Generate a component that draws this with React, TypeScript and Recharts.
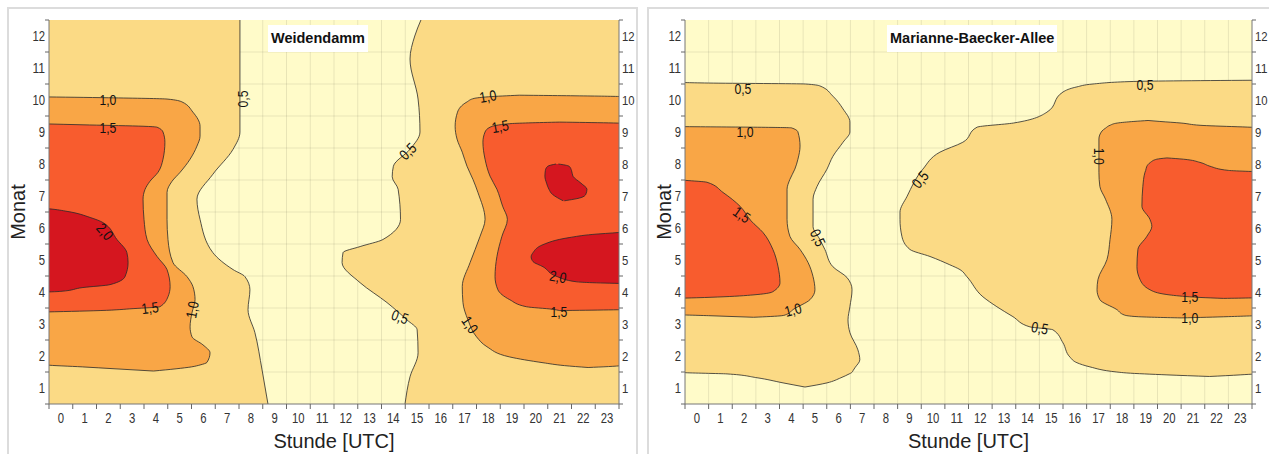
import React from "react";
import {
  ComposedChart,
  Area,
  Scatter,
  XAxis,
  YAxis,
  CartesianGrid,
} from "recharts";

// [month, lower hour, upper hour] rows of each contour band.
// L / R stand for "past the left / right edge of the plot".
type Row = [number, number, number];
const L = -1;
const R = 24;

const HOURS = [0, 1, 2, 3, 4, 5, 6, 7, 8, 9, 10, 11, 12, 13, 14, 15, 16, 17, 18, 19, 20, 21, 22, 23];
const MONTHS = [1, 2, 3, 4, 5, 6, 7, 8, 9, 10, 11, 12];

// ---- Weidendamm ----
const wdLeft05: Row[] = [
  [0.5, L, 8.72], [1.57, L, 8.47], [2.73, L, 8.17], [3.45, L, 7.88], [4.07, L, 7.96],
  [4.48, L, 7.75], [4.7, L, 7.25], [5.23, L, 6.4], [6.27, L, 5.86], [6.9, L, 5.73],
  [7.68, L, 6.4], [8.46, L, 7.25], [9.0, L, 7.54], [12.5, L, 7.54],
];
const wdRight05: Row[] = [
  [0.5, 14.49, R], [1.35, 14.7, R], [2.1, 15.04, R], [2.82, 15.0, R], [3.13, 14.57, R],
  [3.67, 13.73, R], [4.29, 12.6, R], [4.92, 11.84, R], [5.23, 11.88, R], [5.42, 12.6, R],
  [5.64, 13.56, R], [6.27, 14.3, R], [7.21, 14.2, R], [7.6, 13.95, R], [7.93, 14.0, R],
  [8.46, 14.7, R], [9.0, 15.12, R], [10.03, 15.04, R], [11.28, 14.7, R], [12.0, 14.9, R],
  [12.5, 15.16, R],
];
const wdLeft10: Row[] = [
  [1.53, 3.9, 3.9], [1.6, 2.28, 4.85], [1.66, 0.9, 5.5], [1.72, -0.6, 5.86], [1.8, L, 6.15],
  [2.1, L, 6.28], [2.35, L, 5.98], [2.6, L, 5.52], [2.91, L, 5.44], [3.35, L, 5.52],
  [3.76, L, 5.65], [4.17, L, 5.56], [4.48, L, 5.31], [4.92, L, 4.72], [5.64, L, 4.51],
  [6.27, L, 4.47], [7.11, L, 4.47], [7.46, L, 4.68], [7.74, L, 5.02], [8.15, L, 5.44],
  [8.56, L, 5.73], [8.87, L, 5.86], [9.18, L, 5.86], [9.62, L, 5.56], [9.94, L, 5.1],
  [10.03, L, 4.47], [10.07, L, 2.0], [10.1, L, L],
];
const wdRight10: Row[] = [
  [1.64, 22.2, 22.2], [1.7, 21.2, 23.6], [1.79, 20.3, R], [1.97, 18.9, R], [2.29, 17.94, R],
  [2.6, 17.5, R], [3.13, 17.14, R], [3.67, 16.93, R], [4.17, 16.9, R], [4.92, 17.23, R],
  [5.74, 17.65, R], [6.27, 17.86, R], [7.11, 17.56, R], [7.52, 17.35, R], [7.93, 17.1, R],
  [8.37, 16.9, R], [8.78, 16.68, R], [9.18, 16.6, R], [9.62, 16.7, R], [9.94, 17.1, R],
  [10.05, 17.4, R], [10.1, 18.0, 23.8], [10.15, 19.3, 19.3],
];
const wdLeft15: Row[] = [
  [3.37, L, L], [3.42, L, 1.65], [3.48, L, 3.04], [3.54, L, 4.17], [3.85, L, 4.51],
  [4.17, L, 4.6], [4.7, L, 4.47], [5.11, L, 4.05], [5.64, L, 3.63], [6.27, L, 3.5],
  [6.9, L, 3.46], [7.2, L, 3.54], [7.46, L, 3.75], [7.74, L, 4.09], [8.15, L, 4.3],
  [8.68, L, 4.38], [9.0, L, 4.3], [9.15, L, 4.05], [9.18, L, 3.46], [9.22, L, 1.2], [9.26, L, L],
];
const wdRight15: Row[] = [
  [3.42, 21.0, 21.0], [3.46, 20.7, R], [3.54, 19.6, R], [3.76, 18.9, R], [4.07, 18.4, R],
  [4.48, 18.28, R], [5.11, 18.36, R], [5.74, 18.57, R], [6.27, 18.8, R], [6.68, 18.6, R],
  [7.21, 18.36, R], [7.62, 18.07, R], [8.15, 17.86, R], [8.68, 17.77, R], [9.0, 17.86, R],
  [9.15, 18.07, R], [9.26, 18.9, R], [9.31, 21.0, 21.0],
];
const wdLeft20: Row[] = [
  [3.99, L, L], [4.02, L, 0.0], [4.14, L, 0.93], [4.23, L, 2.07], [4.48, L, 2.7],
  [4.92, L, 2.83], [5.23, L, 2.78], [5.64, L, 2.36], [6.17, L, 1.77], [6.33, L, 1.23],
  [6.52, L, 0.26], [6.6, L, -0.5], [6.63, L, L],
];
const wdBlob20: Row[] = [
  [6.85, 21.15, 21.2], [6.95, 20.9, 21.9], [7.05, 20.7, 22.1], [7.21, 20.55, 22.15],
  [7.4, 20.45, 21.9], [7.62, 20.38, 21.56], [7.8, 20.4, 21.5], [7.93, 20.5, 21.4],
  [8.0, 20.85, 20.95],
];
const wdRight20: Row[] = [
  [4.26, R, R], [4.29, 22.4, R], [4.32, 21.7, R], [4.48, 20.9, R], [4.79, 20.3, R],
  [4.95, 19.88, R], [5.1, 19.8, R], [5.23, 19.88, R], [5.48, 20.3, R], [5.7, 21.4, R],
  [5.8, 22.4, R], [5.86, 23.5, R], [5.89, R, R],
];

// ---- Marianne-Baecker-Allee ----
const mbLeft05: Row[] = [
  [1.03, 4.58, 4.58], [1.16, 3.65, 5.51], [1.32, 2.55, 6.1], [1.44, 1.28, 6.45],
  [1.48, -0.5, 6.55], [1.55, L, 6.62], [1.63, L, 6.69], [1.88, L, 6.9], [2.19, L, 6.82],
  [2.73, L, 6.48], [3.13, L, 6.4], [3.54, L, 6.48], [4.07, L, 6.57], [4.45, L, 6.36],
  [4.79, L, 5.76], [5.33, L, 5.42], [5.64, L, 5.21], [6.05, L, 4.92], [6.9, L, 4.92],
  [7.3, L, 5.09], [7.84, L, 5.51], [8.24, L, 5.76], [8.68, L, 6.19], [9.0, L, 6.48],
  [9.31, L, 6.48], [9.72, L, 6.19], [10.12, L, 5.76], [10.44, L, 5.21], [10.5, L, 4.6],
  [10.53, L, 0.5], [10.56, L, L],
];
const mbRight05: Row[] = [
  [1.36, 21.7, 21.7], [1.41, 19.9, 23.0], [1.47, 18.2, R], [1.5, 17.78, R], [1.66, 16.64, R],
  [1.79, 16.09, R], [1.97, 15.79, R], [2.41, 15.5, R], [2.82, 15.07, R], [2.91, 14.1, R],
  [3.23, 13.38, R], [3.54, 12.7, R], [3.85, 12.11, R], [4.48, 11.43, R], [4.7, 11.14, R],
  [4.85, 10.71, R], [5.11, 9.87, R], [5.33, 9.02, R], [5.74, 8.68, R], [6.27, 8.6, R],
  [6.49, 8.6, R], [6.99, 8.9, R], [7.84, 9.57, R], [8.37, 10.29, R], [8.68, 11.26, R],
  [9.15, 11.86, R], [9.28, 13.4, R], [9.62, 14.82, R], [10.25, 15.5, R], [10.41, 16.09, R],
  [10.5, 16.77, R], [10.58, 18.5, R], [10.62, R, R],
];
const mbLeft10: Row[] = [
  [3.21, 2.4, 2.4], [3.26, 0.5, 3.6], [3.3, L, 3.8], [3.45, L, 4.07], [3.76, L, 4.79],
  [4.07, L, 5.0], [4.48, L, 4.92], [4.92, L, 4.71], [5.33, L, 4.37], [5.74, L, 3.94],
  [6.27, L, 3.82], [7.21, L, 3.82], [7.52, L, 3.94], [7.84, L, 4.15], [8.15, L, 4.28],
  [8.56, L, 4.37], [9.0, L, 4.28], [9.13, L, 4.0], [9.17, L, L],
];
const mbRight10: Row[] = [
  [3.19, 20.5, 20.5], [3.23, 18.63, 22.5], [3.28, 18.1, R], [3.45, 17.78, R], [3.76, 17.06, R],
  [4.07, 16.94, R], [4.39, 16.98, R], [5.01, 17.36, R], [5.64, 17.49, R], [6.27, 17.57, R],
  [6.9, 17.3, R], [7.3, 17.06, R], [7.74, 17.02, R], [8.78, 17.02, R], [9.03, 17.15, R],
  [9.12, 17.3, R], [9.21, 17.49, 21.3], [9.28, 17.8, 20.5], [9.33, 18.5, 19.6], [9.36, 19.1, 19.1],
];
const mbLeft15: Row[] = [
  [3.8, L, L], [3.82, L, 0.0], [3.85, L, 1.11], [3.92, L, 2.55], [4.01, L, 3.22],
  [4.29, L, 3.52], [4.79, L, 3.44], [5.33, L, 3.22], [5.86, L, 2.8], [6.22, L, 2.3],
  [6.68, L, 1.83], [7.11, L, 1.11], [7.43, L, 0.43], [7.49, L, -0.5], [7.52, L, L],
];
const mbRight15: Row[] = [
  [3.8, 22.3, 22.3], [3.83, 21.3, R], [3.85, 20.87, R], [3.92, 19.9, R], [4.07, 19.18, R],
  [4.39, 18.76, R], [4.79, 18.63, R], [5.33, 18.67, R], [5.74, 19.05, R], [6.05, 19.26, R],
  [6.27, 19.18, R], [6.68, 18.84, R], [7.3, 18.88, R], [7.74, 18.97, R], [7.8, 19.0, 22.5],
  [7.93, 19.05, 21.72], [8.05, 19.2, 21.3], [8.15, 19.47, 20.6], [8.19, 19.9, 19.9],
];

// contour labels: hour, month, text, angle
const wdLabels = [
  { h: 7.63, m: 10.03, t: "0,5", a: -90 },
  { h: 1.98, m: 10.03, t: "1,0", a: 0 },
  { h: 1.98, m: 9.15, t: "1,5", a: 0 },
  { h: 1.86, m: 5.89, t: "2,0", a: 50 },
  { h: 3.75, m: 3.51, t: "1,5", a: -8 },
  { h: 5.52, m: 3.45, t: "1,0", a: -80 },
  { h: 14.6, m: 8.4, t: "0,5", a: -45 },
  { h: 14.28, m: 3.23, t: "0,5", a: 20 },
  { h: 17.98, m: 10.12, t: "1,0", a: -10 },
  { h: 18.5, m: 9.18, t: "1,5", a: -10 },
  { h: 17.23, m: 2.98, t: "1,0", a: 55 },
  { h: 20.93, m: 4.48, t: "2,0", a: 10 },
  { h: 20.97, m: 3.38, t: "1,5", a: 0 },
];
const mbLabels = [
  { h: 1.95, m: 10.37, t: "0,5", a: 0 },
  { h: 2.04, m: 9.03, t: "1,0", a: 0 },
  { h: 1.91, m: 6.42, t: "1,5", a: 35 },
  { h: 5.13, m: 5.7, t: "0,5", a: 65 },
  { h: 4.07, m: 3.45, t: "1,0", a: -15 },
  { h: 9.45, m: 7.52, t: "0,5", a: -50 },
  { h: 18.97, m: 10.5, t: "0,5", a: 0 },
  { h: 17.06, m: 8.24, t: "1,0", a: 90 },
  { h: 14.52, m: 2.88, t: "0,5", a: 10 },
  { h: 20.87, m: 3.85, t: "1,5", a: 0 },
  { h: 20.87, m: 3.2, t: "1,0", a: 0 },
];

const BG = "#FFFBC9";
const C05 = "#FBDA85";
const C10 = "#F9A646";
const C15 = "#F85C2E";
const C20 = "#D5161F";
const SANS = '"Liberation Sans", Arial, sans-serif';

const hourTicks = [-0.5, ...HOURS.flatMap((h) => [h, h + 0.5])];
const monthTicks = [0.5, ...MONTHS.flatMap((m) => [m, m + 0.5])];
const gridHours = HOURS.slice(0, -1).map((h) => h + 0.5);
const gridMonths = MONTHS.slice(0, -1).map((m) => m + 0.5);

const toSeries = (rows: Row[]) => rows.map(([m, lo, hi]) => ({ m, v: [lo, hi] }));

// narrow-looking numbers (the original uses a condensed face)
const Num = ({ x, y, anchor, size, children }: any) => {
  const s = String(children);
  return (
    <text
      x={x}
      y={y}
      textAnchor={anchor}
      fontSize={size}
      fontFamily={SANS}
      fill="#333"
      textLength={s.length * 6.3}
      lengthAdjust="spacingAndGlyphs"
    >
      {s}
    </text>
  );
};

const HourTick = ({ x, y, payload }: any) => {
  const v = payload.value;
  if (v % 1 !== 0) return <line x1={x} x2={x} y1={y} y2={y + 5} stroke="#666" />;
  return <Num x={x} y={y + 19} anchor="middle" size={15}>{v}</Num>;
};

const MonthTick = ({ x, y, payload, side }: any) => {
  const v = payload.value;
  const dir = side === "left" ? -1 : 1;
  if (v % 1 !== 0) return <line x1={x} x2={x + dir * 4} y1={y} y2={y} stroke="#666" />;
  return (
    <Num
      x={x + dir * (side === "left" ? 4 : 3)}
      y={y + 5}
      anchor={side === "left" ? "end" : "start"}
      size={side === "left" ? 15 : 13}
    >
      {v}
    </Num>
  );
};

const ContourLabel = ({ cx, cy, payload }: any) => (
  <text
    x={cx}
    y={cy}
    transform={`rotate(${payload.a}, ${cx}, ${cy})`}
    textAnchor="middle"
    dominantBaseline="central"
    fontSize={15}
    fontFamily={SANS}
    fill="#111"
    textLength={17}
    lengthAdjust="spacingAndGlyphs"
  >
    {payload.t}
  </text>
);

interface Layer {
  rows: Row[];
  fill: string;
}

interface PanelProps {
  title: string;
  titleLeft: number;
  width: number;
  axisWidth: number;
  rightWidth: number;
  layers: Layer[];
  labels: { h: number; m: number; t: string; a: number }[];
}

const Panel = ({ title, titleLeft, width, axisWidth, rightWidth, layers, labels }: PanelProps) => (
  <div style={{ position: "relative", width, height: 454 }}>
    <ComposedChart
      width={width}
      height={454}
      layout="vertical"
      margin={{ top: 20, right: 0, bottom: 0, left: 0 }}
    >
      <CartesianGrid yAxisId="left" horizontal={false} vertical={false} fill={BG} />
      <XAxis
        type="number"
        dataKey="h"
        domain={[-0.5, 23.5]}
        allowDataOverflow
        ticks={hourTicks}
        interval={0}
        tick={<HourTick />}
        tickLine={false}
        tickSize={0}
        tickMargin={0}
        height={50}
        stroke="#777"
        label={{
          value: "Stunde [UTC]",
          position: "insideBottom",
          offset: 6,
          fontSize: 20,
          fontFamily: SANS,
          fill: "#222",
        }}
      />
      <YAxis
        yAxisId="left"
        type="number"
        dataKey="m"
        domain={[0.5, 12.5]}
        allowDataOverflow
        reversed
        ticks={monthTicks}
        interval={0}
        tick={<MonthTick side="left" />}
        tickLine={false}
        tickSize={0}
        tickMargin={0}
        width={axisWidth}
        stroke="#777"
        label={{
          value: "Monat",
          angle: -90,
          position: "center",
          dx: -(axisWidth / 2 - 18),
          fontSize: 20,
          fontFamily: SANS,
          fill: "#222",
        }}
      />
      <YAxis
        yAxisId="right"
        orientation="right"
        type="number"
        dataKey="m"
        domain={[0.5, 12.5]}
        allowDataOverflow
        reversed
        ticks={monthTicks}
        interval={0}
        tick={<MonthTick side="right" />}
        tickLine={false}
        tickSize={0}
        tickMargin={0}
        width={rightWidth}
        stroke="#777"
      />
      {layers.map((layer, i) => (
        <Area
          key={i}
          yAxisId="left"
          data={toSeries(layer.rows)}
          dataKey="v"
          type="monotone"
          fill={layer.fill}
          fillOpacity={1}
          stroke="#2a2a2a"
          strokeWidth={0.8}
          dot={false}
          activeDot={false}
          isAnimationActive={false}
        />
      ))}
      <CartesianGrid
        yAxisId="left"
        verticalValues={gridHours}
        horizontalValues={gridMonths}
        stroke="#000"
        strokeOpacity={0.09}
      />
      <Scatter
        yAxisId="left"
        data={labels}
        shape={<ContourLabel />}
        isAnimationActive={false}
      />
      <Scatter yAxisId="right" data={[]} isAnimationActive={false} />
    </ComposedChart>
    <div
      style={{
        position: "absolute",
        left: titleLeft,
        top: 25,
        height: 27,
        lineHeight: "27px",
        padding: "0 3px",
        background: "#fff",
        fontFamily: SANS,
        fontWeight: 700,
        fontSize: 14.5,
        color: "#111",
      }}
    >
      {title}
    </div>
  </div>
);

export default function App() {
  return (
    <div style={{ position: "absolute", left: 0, top: 0, width: 1269, height: 454, background: "#fff", overflow: "hidden" }}>
      <div style={{ position: "absolute", left: 7, top: 7, width: 627, height: 460, border: "2px solid #dcdcdc" }} />
      <div style={{ position: "absolute", left: 647, top: 7, width: 640, height: 460, border: "2px solid #dcdcdc" }} />
      <div style={{ position: "absolute", left: 0, top: 0 }}>
        <Panel
          title="Weidendamm"
          titleLeft={268}
          width={640}
          axisWidth={49}
          rightWidth={21}
          layers={[
            { rows: wdLeft05, fill: C05 },
            { rows: wdRight05, fill: C05 },
            { rows: wdLeft10, fill: C10 },
            { rows: wdRight10, fill: C10 },
            { rows: wdLeft15, fill: C15 },
            { rows: wdRight15, fill: C15 },
            { rows: wdLeft20, fill: C20 },
            { rows: wdBlob20, fill: C20 },
            { rows: wdRight20, fill: C20 },
          ]}
          labels={wdLabels}
        />
      </div>
      <div style={{ position: "absolute", left: 646, top: 0 }}>
        <Panel
          title="Marianne-Baecker-Allee"
          titleLeft={241}
          width={623}
          axisWidth={39}
          rightWidth={17}
          layers={[
            { rows: mbLeft05, fill: C05 },
            { rows: mbRight05, fill: C05 },
            { rows: mbLeft10, fill: C10 },
            { rows: mbRight10, fill: C10 },
            { rows: mbLeft15, fill: C15 },
            { rows: mbRight15, fill: C15 },
          ]}
          labels={mbLabels}
        />
      </div>
    </div>
  );
}
